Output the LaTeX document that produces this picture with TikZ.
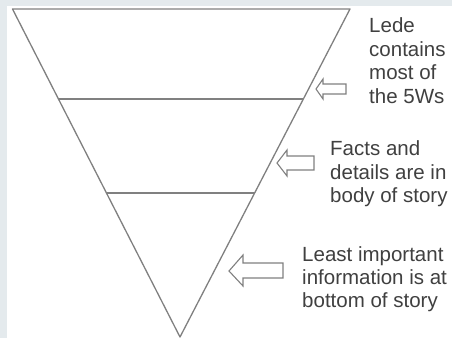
\documentclass[tikz,border=0pt]{standalone}
\usepackage{fontspec}
\setmainfont{Liberation Sans}
\usetikzlibrary{calc}
\begin{document}
\begin{tikzpicture}[x=1pt,y=-1pt,
  pyr/.style={draw=black!50, line width=1.3pt, line join=round},
  blockarrow/.style={draw=black!50, line width=1.1pt, fill=white, line join=miter},
  lbl/.style={anchor=north west, inner sep=0pt, align=left, text=black!75,
    font=\fontsize{20.5}{23.5}\selectfont}]
\useasboundingbox (0,0) rectangle (452,338);
\fill[white] (0,0) rectangle (452,338);
\fill[fill={rgb,255:red,228;green,234;blue,237}] (0,0) rectangle (452,5.5);
\fill[fill={rgb,255:red,228;green,234;blue,237}] (0,0) rectangle (7,338);
% pyramid
\coordinate (tl) at (12.5,9);
\coordinate (tr) at (350,9);
\coordinate (ap) at (180,337);
\draw[pyr] (tl) -- (tr) -- (ap) -- cycle;
\coordinate (l1) at ($(tl)!0.2744!(ap)$);
\coordinate (r1) at ($(tr)!0.2744!(ap)$);
\coordinate (l2) at ($(tl)!0.561!(ap)$);
\coordinate (r2) at ($(tr)!0.561!(ap)$);
\draw[pyr] (l1) -- (r1);
\draw[pyr] (l2) -- (r2);
% arrows
\draw[blockarrow] (316,89) -- (323,79) -- (323,84) -- (346,84) -- (346,94) -- (323,94) -- (323,99) -- cycle;
\draw[blockarrow] (277,163) -- (287,150) -- (287,156) -- (314,156) -- (314,170) -- (287,170) -- (287,176) -- cycle;
\draw[blockarrow] (229,271) -- (243,255) -- (243,263) -- (283,263) -- (283,278) -- (243,278) -- (243,286) -- cycle;
% labels
\node[lbl] (t1) at (369,17.5) {Lede\\contains\\most of\\the 5Ws};
\node[lbl] (t2) at (330,140.5) {Facts and\\details are in\\body of story};
\node[lbl,font=\fontsize{20.5}{23}\selectfont] (t3) at (302,246.5) {Least important\\information is at\\bottom of story};
\end{tikzpicture}
\end{document}
